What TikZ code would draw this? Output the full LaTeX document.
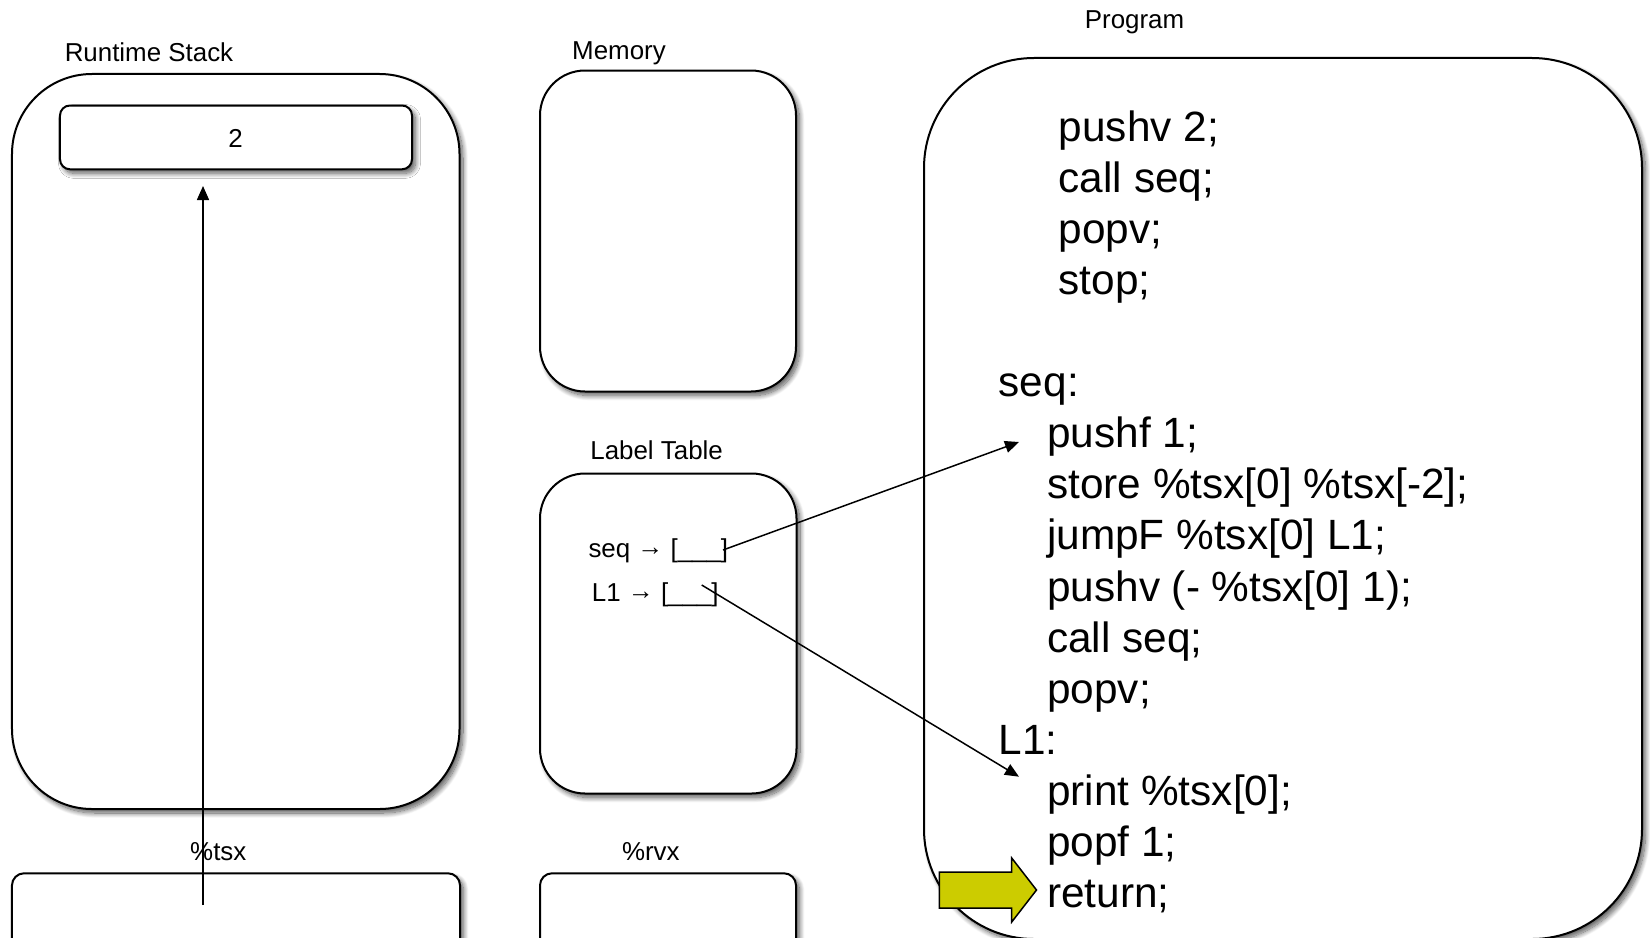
\documentclass[tikz,border=0pt]{standalone}
\usepackage{fontspec}
\setmainfont{Liberation Sans}
\usetikzlibrary{arrows.meta,shadows.blur}
\definecolor{arrowyellow}{HTML}{CCCC00}
\begin{document}
\begin{tikzpicture}[x=1bp,y=-1bp,
  panel/.style={draw=black, line width=2bp, fill=white, inner sep=0pt,
    blur shadow={shadow xshift=3.5bp, shadow yshift=-4bp, shadow blur radius=5bp, shadow blur steps=12, shadow opacity=65}},
  small/.style={font=\fontsize{26}{30}\selectfont, inner sep=0pt},
  code/.style={font=\fontsize{42.5}{50}\selectfont, inner sep=0pt, anchor=base west},
  link/.style={line width=1.5bp, -{Triangle[length=14bp,width=12bp]}}
]
\useasboundingbox (0,0) rectangle (1650,937);
\clip (0,0) rectangle (1650,937);

% Titles
\node[small, anchor=base] (tstack) at (149,61) {Runtime Stack};
\node[small, anchor=base] (tmem) at (619,59) {Memory};
\node[small, anchor=base] (tprog) at (1134.5,28.5) {Program};
\node[small, anchor=base] (tlab) at (656.6,459) {Label Table};
\node[small, anchor=base] (ttsx) at (218.3,860.7) {\%tsx};
\node[small, anchor=base] (trvx) at (650.8,860.7) {\%rvx};

% Panels
\node[panel, rounded corners=80bp, minimum width=447.5bp, minimum height=735bp] (stack) at (235.75,441.5) {};
\node[panel, rounded corners=10bp, minimum width=352bp, minimum height=63.8bp] (slot) at (236,137.4) {};
\node[small, anchor=base] (two) at (235.7,147.3) {2};
\node[panel, rounded corners=45bp, minimum width=256bp, minimum height=321bp] (mem) at (668,231) {};
\node[panel, rounded corners=45bp, minimum width=256.5bp, minimum height=320bp] (labtab) at (668.25,633.5) {};
\node[panel, rounded corners=110bp, minimum width=718bp, minimum height=881bp] (prog) at (1283,498.5) {};
\node[panel, rounded corners=12bp, minimum width=448bp, minimum height=100bp] (tsx) at (236,923.3) {};
\node[panel, rounded corners=12bp, minimum width=256bp, minimum height=100bp] (rvx) at (668,923.3) {};

% Label table entries
\node[small, anchor=base west] (eseq) at (588.3,557.5) {seq \raisebox{2bp}{→} [\_\_\_]};
\node[small, anchor=base west] (el1) at (591.7,601.7) {L1 \raisebox{2bp}{→} [\_\_\_]};

% Program text
\node[code] (c0) at (1058.6,141.2) {pushv 2;};
\node[code] (c1) at (1058.6,192.3) {call seq;};
\node[code] (c2) at (1058.6,243.4) {popv;};
\node[code] (c3) at (1058.6,294.5) {stop;};
\node[code] (c5) at (998.6,396.6) {seq:};
\node[code] (c6) at (1047,447.7) {pushf 1;};
\node[code] (c7) at (1047,498.8) {store \%tsx[0] \%tsx[-2];};
\node[code] (c8) at (1047,549.9) {jumpF \%tsx[0] L1;};
\node[code] (c9) at (1047,601) {pushv (- \%tsx[0] 1);};
\node[code] (c10) at (1047,652.1) {call seq;};
\node[code] (c11) at (1047,703.1) {popv;};
\node[code] (c12) at (998.6,754.2) {L1:};
\node[code] (c13) at (1047,805.3) {print \%tsx[0];};
\node[code] (c14) at (1047,856.4) {popf 1;};
\node[code] (c15) at (1047,907.5) {return;};

% Connectors
\coordinate (seqslot) at (723,550);
\coordinate (l1slot) at (701.7,585);
\coordinate (seqtarget) at (1019,442);
\coordinate (l1target) at (1019,776.7);
\coordinate (tsxptr) at (203,905);
\coordinate (stacktop) at (203,186);
\draw[link] (seqslot) -- (seqtarget);
\draw[link] (l1slot) -- (l1target);
\draw[link] (tsxptr) -- (stacktop);

% Program counter arrow
\draw[fill=arrowyellow, draw=black, line width=1.5bp]
  (939.3,872) -- (1011.7,872) -- (1011.7,858) -- (1036.5,890) -- (1011.7,922) -- (1011.7,908) -- (939.3,908) -- cycle;
\end{tikzpicture}
\end{document}
